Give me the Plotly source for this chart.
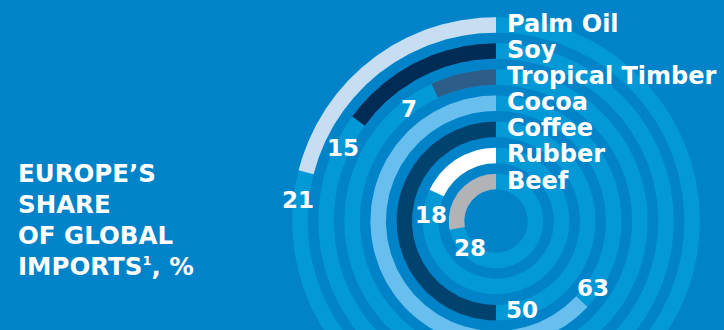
import numpy as np
import plotly.graph_objects as go

# ---- data ----
categories = ["Palm Oil", "Soy", "Tropical Timber", "Cocoa", "Coffee", "Rubber", "Beef"]
shares = [21, 15, 7, 63, 50, 18, 28]          # Europe's share of global imports, %
bar_colors = ["#C6DDF2", "#002B55", "#2D5E89", "#68BEEC", "#00436F", "#FFFFFF", "#B1B3B7"]
title_lines = ["EUROPE’S", "SHARE", "OF GLOBAL",
               "IMPORTS<sup><span style='font-size:13px'>1</span></sup>, %"]

# ---- style / layout ----
BG = "#0183CA"
TRACK = "#0399D6"
W, H = 724, 330
CX, CY = 496, 221            # pixel position of the ring centre
R_INNER = 39.5               # mid radius of innermost ring
STEP = 26.1                  # ring spacing
THICK = 15.5                 # ring thickness
FONT = "DejaVu Sans"
label_shift_deg = [8.3, 10.5, 12.7, 8.6, 16.3, 20, 35]   # where the value label sits past the bar end
label_r_extra = [3, -1, -2, 0, 1, 0, -2]

n = len(categories)
radii = [R_INNER + STEP * (n - 1 - i) for i in range(n)]

fig = go.Figure()

def arc(r, a0, a1, num=200):
    t = np.radians(np.linspace(a0, a1, num))
    return -r * np.sin(t), r * np.cos(t)

# background tracks (full rings)
for r in radii:
    xo, yo = arc(r + THICK / 2, 0, 360, 400)
    xi, yi = arc(r - THICK / 2, 360, 0, 400)
    fig.add_trace(go.Scatter(x=np.r_[xo, xi], y=np.r_[yo, yi], fill="toself",
                             fillcolor=TRACK, line=dict(width=0), mode="lines",
                             hoverinfo="skip", showlegend=False))

# value bars
for cat, v, c, r in zip(categories, shares, bar_colors, radii):
    end = v * 3.6
    xo, yo = arc(r + THICK / 2, 0, end)
    xi, yi = arc(r - THICK / 2, end, 0)
    fig.add_trace(go.Scatter(x=np.r_[xo, xi], y=np.r_[yo, yi], fill="toself",
                             fillcolor=c, line=dict(width=0), mode="lines",
                             name=cat, hoverinfo="name", showlegend=False))

annotations = []
# category labels
for cat, r in zip(categories, radii):
    annotations.append(dict(x=9, y=r + 1, text=cat, showarrow=False, xanchor="left",
                            yanchor="middle",
                            font=dict(family=FONT, size=24, color="white", weight="bold")))
# value labels
for v, r, s, e in zip(shares, radii, label_shift_deg, label_r_extra):
    a = np.radians(v * 3.6 + s)
    rr = r + e
    annotations.append(dict(x=-rr * np.sin(a), y=rr * np.cos(a), text=str(v), showarrow=False,
                            xanchor="center", yanchor="middle",
                            font=dict(family=FONT, size=23, color="white", weight="bold")))
# title
for k, line in enumerate(title_lines):
    annotations.append(dict(x=16 - CX, y=CY - (173.5 + 31 * k), text=line, showarrow=False,
                            xanchor="left", yanchor="middle",
                            font=dict(family=FONT, size=24.5, color="white", weight="bold")))

fig.update_layout(
    width=W, height=H, margin=dict(l=0, r=0, t=0, b=0),
    paper_bgcolor=BG, plot_bgcolor=BG,
    xaxis=dict(range=[-CX, W - CX], visible=False, fixedrange=True),
    yaxis=dict(range=[CY - H, CY], visible=False, fixedrange=True),
    annotations=annotations,
)

fig.write_html("out.html", config={"displayModeBar": False},
               post_script="document.body.style.margin='0';document.body.style.overflow='hidden';")
